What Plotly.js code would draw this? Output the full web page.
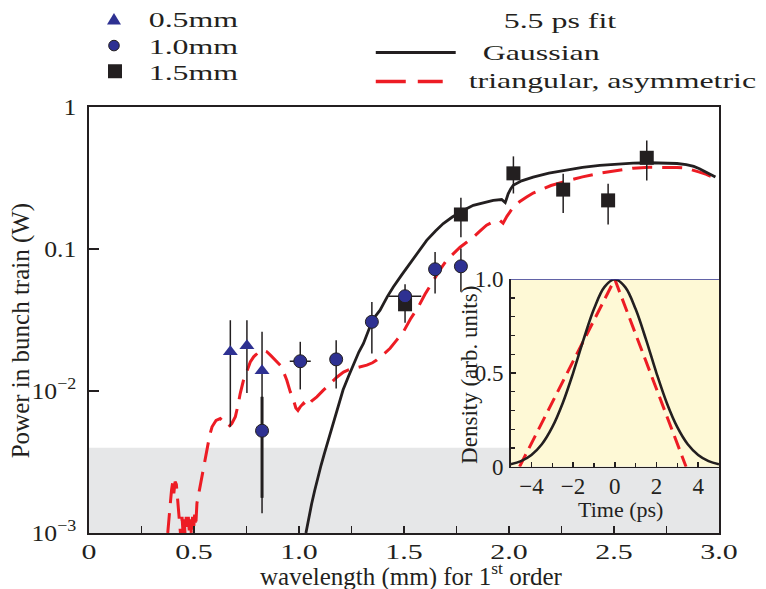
<!DOCTYPE html>
<html>
<head>
<meta charset="utf-8">
<script src="https://cdn.plot.ly/plotly-3.0.1.min.js"></script>
<style>
  html, body { margin: 0; padding: 0; background: #fff; }
  #chart { width: 766px; height: 589px; }
  g.xtick, g.ytick, g.annotation { transform-box: fill-box; }
  g.xtick { transform-origin: center; transform: scaleX(1.36); }
  g.ytick { transform-origin: right center; transform: scaleX(1.12); }
  g.annotation[data-index="0"], g.annotation[data-index="1"], g.annotation[data-index="2"],
  g.annotation[data-index="3"], g.annotation[data-index="4"], g.annotation[data-index="5"] {
    transform-origin: left center; transform: scaleX(1.45);
  }
</style>
</head>
<body>
<div id="chart"></div>
<script>
// ---------- measured data: 0.5 mm (triangles) ----------
const triX  = [0.673, 0.752, 0.824];
const triY  = [0.0189, 0.0208, 0.0139];
const triHi = [0.0315, 0.0315, 0.0261];
const triLo = [0.0056, 0.0097, 0.00138];

// ---------- measured data: 1.0 mm (circles) ----------
const cirX   = [0.824, 1.006, 1.177, 1.347, 1.505, 1.648, 1.771];
const cirY   = [0.00525, 0.0162, 0.0167, 0.0307, 0.0465, 0.072, 0.0755];
const cirHi  = [0.0091, 0.0222, 0.0228, 0.0424, 0.0465, 0.0953, 0.101];
const cirLo  = [0.00177, 0.01026, 0.01043, 0.0184, 0.0465, 0.0486, 0.0499];
const cirXErr = [0, 0.05, 0, 0, 0.077, 0, 0];

// ---------- measured data: 1.5 mm (squares) ----------
const sqX  = [1.505, 1.771, 2.021, 2.258, 2.472, 2.656];
const sqY  = [0.0408, 0.175, 0.341, 0.262, 0.22, 0.439];
const sqHi = [0.0565, 0.23, 0.449, 0.339, 0.288, 0.581];
const sqLo = [0.0302, 0.121, 0.246, 0.179, 0.149, 0.304];

// ---------- 5.5 ps fit: Gaussian ----------
const gaussX = [1.033, 1.045, 1.06, 1.075, 1.09, 1.105, 1.12, 1.135, 1.15, 1.165, 1.18, 1.195, 1.21, 1.235,
  1.26, 1.285, 1.307, 1.327, 1.347, 1.366, 1.386, 1.42, 1.449, 1.49, 1.529, 1.57, 1.608, 1.65, 1.687, 1.73,
  1.767, 1.80, 1.83, 1.88, 1.925, 1.965, 1.975, 1.982, 1.988, 1.996, 2.008, 2.02, 2.06, 2.115, 2.19, 2.274,
  2.35, 2.432, 2.51, 2.591, 2.67, 2.749, 2.8, 2.844, 2.88, 2.907, 2.935, 2.955, 2.983];
const gaussY = [0.001, 0.00125, 0.0016, 0.0020, 0.0025, 0.0030, 0.0036, 0.0043, 0.0052, 0.0062, 0.0074, 0.0087, 0.0102, 0.0126,
  0.0155, 0.0188, 0.0216, 0.0262, 0.0307, 0.034, 0.0371, 0.046, 0.054, 0.066, 0.0789, 0.096, 0.115, 0.134, 0.151, 0.168,
  0.182, 0.193, 0.203, 0.213, 0.22, 0.223, 0.218, 0.212, 0.225, 0.245, 0.265, 0.281, 0.302, 0.321, 0.342, 0.361,
  0.376, 0.388, 0.397, 0.403, 0.405, 0.403, 0.40, 0.393, 0.382, 0.368, 0.35, 0.339, 0.321];

// ---------- 5.5 ps fit: triangular, asymmetric ----------
const triaX = [0.375, 0.38, 0.387, 0.393, 0.398, 0.404, 0.41, 0.416, 0.422, 0.428, 0.433, 0.438, 0.443, 0.448,
  0.453, 0.458, 0.463, 0.468, 0.473, 0.478, 0.483, 0.488, 0.493, 0.498, 0.503, 0.508, 0.514, 0.525, 0.538,
  0.55, 0.562, 0.575, 0.586, 0.605, 0.625, 0.645, 0.665, 0.68, 0.697, 0.71, 0.72, 0.735, 0.752, 0.768, 0.784,
  0.805, 0.824, 0.835, 0.847, 0.865, 0.887, 0.905, 0.918, 0.93, 0.942, 0.958, 0.972, 0.985, 0.995, 1.005,
  1.021, 1.03, 1.038, 1.06, 1.085, 1.115, 1.148, 1.18, 1.212, 1.235, 1.259, 1.29, 1.323, 1.35, 1.37, 1.40,
  1.434, 1.465, 1.497, 1.53, 1.568, 1.60, 1.64, 1.67, 1.703, 1.735, 1.767, 1.80, 1.83, 1.86, 1.893, 1.92,
  1.957, 1.972, 1.99, 2.02, 2.05, 2.084, 2.115, 2.147, 2.2, 2.274, 2.35, 2.432, 2.51, 2.591, 2.67, 2.749,
  2.80, 2.844, 2.88, 2.907, 2.94, 2.968];
const triaY = [0.0010, 0.0013, 0.0016, 0.0020, 0.00225, 0.0019, 0.0023, 0.0022, 0.0017, 0.00145, 0.0011, 0.0009, 0.0013, 0.0010,
  0.00125, 0.00095, 0.0013, 0.00105, 0.0013, 0.0010, 0.00125, 0.00095, 0.0013, 0.00105, 0.00135, 0.0011, 0.00162, 0.0020, 0.0025,
  0.0032, 0.00406, 0.0049, 0.0056, 0.0062, 0.0064, 0.0060, 0.0056, 0.0059, 0.0066, 0.0080, 0.0096, 0.0118, 0.014, 0.016, 0.0174,
  0.0186, 0.0194, 0.0191, 0.0189, 0.0178, 0.0165, 0.0155, 0.0148, 0.0132, 0.0119, 0.0099, 0.0088, 0.0076, 0.0073, 0.0077,
  0.0082, 0.0079, 0.0077, 0.0085, 0.0091, 0.0101, 0.0113, 0.0125, 0.0136, 0.0141, 0.0144, 0.0148, 0.0152, 0.0158, 0.0165, 0.018,
  0.020, 0.0228, 0.0261, 0.032, 0.0391, 0.048, 0.0602, 0.071, 0.0833, 0.093, 0.103, 0.112, 0.121, 0.133, 0.147, 0.154,
  0.159, 0.152, 0.17, 0.197, 0.215, 0.232, 0.248, 0.259, 0.28, 0.301, 0.322, 0.342, 0.358, 0.371, 0.376, 0.377,
  0.375, 0.371, 0.36, 0.348, 0.335, 0.321];

// ---------- inset: bunch density ----------
const timeG = [-5, -4.5, -4, -3.5, -3, -2.5, -2, -1.5, -1, -0.5, 0, 0.5, 1, 1.5, 2, 2.5, 3, 3.5, 4, 4.5, 5];
const densG = [0.013, 0.030, 0.063, 0.120, 0.211, 0.339, 0.500, 0.678, 0.841, 0.958, 1, 0.958, 0.841, 0.678, 0.500, 0.339, 0.211, 0.120, 0.063, 0.030, 0.013];
const timeT = [-4.57, 0, 3.42];
const densT = [0, 1, 0];

// ---------- tick labels ----------
const xTickVals = [0, 0.5, 1.0, 1.5, 2.0, 2.5, 3.0];
const xTickText = ['0', '0.5', '1.0', '1.5', '2.0', '2.5', '3.0'];
const xMinorVals = [0.25, 0.75, 1.25, 1.75, 2.25, 2.75];
const yTickVals = [0.001, 0.01, 0.1, 1];
const yTickText = ['10<sup>−3</sup>', '10<sup>−2</sup>', '0.1', '1'];
const tTickVals = [-4, -2, 0, 2, 4];
const tMinorVals = [-3, -1, 1, 3];
const dTickVals = [0, 0.5, 1];
const dTickText = ['0', '0.5', '1.0'];
const dMinorVals = [0.1, 0.2, 0.3, 0.4, 0.6, 0.7, 0.8, 0.9];

const legendMarkers = ['0.5mm', '1.0mm', '1.5mm'];
const legendTitle = '5.5 ps fit';
const legendLines = ['Gaussian', 'triangular, asymmetric'];
const xTitle = 'wavelength (mm) for 1<sup>st</sup> order';
const yTitle = 'Power in bunch train (W)';
const tTitle = 'Time (ps)';
const dTitle = 'Density (arb. units)';

// ---------- colours ----------
const INK = '#231f20', BLUE = '#2e3192', RED = '#ed1c24';

function errs(y, hi, lo) {
  return {
    type: 'data', symmetric: false,
    array: y.map((v, i) => hi[i] - v),
    arrayminus: y.map((v, i) => v - lo[i]),
    color: INK, thickness: 1.5, width: 0
  };
}

const traces = [
  { x: triaX, y: triaY, xaxis: 'x', yaxis: 'y', mode: 'lines', type: 'scatter',
    line: { color: RED, width: 3, dash: '20px,10px' }, hoverinfo: 'skip' },
  { x: gaussX, y: gaussY, xaxis: 'x', yaxis: 'y', mode: 'lines', type: 'scatter',
    line: { color: INK, width: 2.8 }, hoverinfo: 'skip' },
  { x: sqX, y: sqY, mode: 'markers', type: 'scatter',
    marker: { symbol: 'square', size: 14, color: INK, line: { width: 0 } },
    error_y: errs(sqY, sqHi, sqLo) },
  { x: triX, y: triY, mode: 'markers', type: 'scatter',
    marker: { symbol: 'triangle-up', size: 13, color: BLUE, line: { width: 0 } },
    error_y: errs(triY, triHi, triLo) },
  // thicker error bar belonging to the first 1.0 mm point
  { x: cirX.slice(0, 1), y: cirY.slice(0, 1), mode: 'markers', type: 'scatter',
    marker: { size: 1, color: 'rgba(0,0,0,0)' },
    error_y: Object.assign(errs(cirY.slice(0, 1), cirHi.slice(0, 1), cirLo.slice(0, 1)), { thickness: 3 }) },
  { x: cirX, y: cirY, mode: 'markers', type: 'scatter',
    marker: { symbol: 'circle', size: 13, color: BLUE, line: { width: 1, color: INK } },
    error_y: errs(cirY, cirHi, cirLo),
    error_x: { type: 'data', array: cirXErr, color: INK, thickness: 1.5, width: 0 } },
  // inset
  { x: timeT, y: densT, xaxis: 'x2', yaxis: 'y2', mode: 'lines', type: 'scatter',
    line: { color: RED, width: 3, dash: '14px,7px' } },
  { x: timeG, y: densG, xaxis: 'x2', yaxis: 'y2', mode: 'lines', type: 'scatter',
    line: { color: INK, width: 2.6, shape: 'spline' } }
];

// pixel -> paper helpers (plot area 89..719.5 x 106.5..533)
const PL = 89, PW = 630.5, PB = 533, PH = 426.5;
const px = v => (v - PL) / PW;
const py = v => (PB - v) / PH;

const shapes = [
  { type: 'rect', xref: 'paper', yref: 'y domain', x0: 0, x1: 1, y0: 0, y1: 0.2,
    fillcolor: '#e6e7e8', line: { width: 0 }, layer: 'below' },
  { type: 'rect', xref: 'x2', yref: 'y2', x0: -5, x1: 5, y0: 0, y1: 1,
    fillcolor: '#fef9d6', line: { width: 0 }, layer: 'below' },
  { type: 'line', xref: 'x2', yref: 'y2', x0: -5, x1: 5, y0: 1, y1: 1,
    line: { color: BLUE, width: 1.5 } },
  // key symbols
  { type: 'path', xref: 'paper', yref: 'paper', xsizemode: 'pixel', ysizemode: 'pixel',
    xanchor: px(114), yanchor: py(18.3), path: 'M-7,-5.5 L7,-5.5 L0,6 Z',
    fillcolor: BLUE, line: { width: 0 } },
  { type: 'circle', xref: 'paper', yref: 'paper', xsizemode: 'pixel', ysizemode: 'pixel',
    xanchor: px(114), yanchor: py(45), x0: -5.3, x1: 5.3, y0: -5.3, y1: 5.3,
    fillcolor: BLUE, line: { width: 1, color: INK } },
  { type: 'rect', xref: 'paper', yref: 'paper', xsizemode: 'pixel', ysizemode: 'pixel',
    xanchor: px(115), yanchor: py(70.7), x0: -7, x1: 7, y0: -7, y1: 7,
    fillcolor: INK, line: { width: 0 } },
  { type: 'line', xref: 'paper', yref: 'paper', x0: px(376), x1: px(456), y0: py(52), y1: py(52),
    line: { color: INK, width: 3 } },
  { type: 'line', xref: 'paper', yref: 'paper', x0: px(376), x1: px(443), y0: py(81), y1: py(81),
    line: { color: RED, width: 3.5, dash: '30px,12px' } }
];

const keyFont = { size: 22, color: INK };
const annotations = [
  { text: legendMarkers[0], x: px(146), y: py(19) },
  { text: legendMarkers[1], x: px(146), y: py(46) },
  { text: legendMarkers[2], x: px(146), y: py(72) },
  { text: legendTitle, x: px(501), y: py(20) },
  { text: legendLines[0], x: px(480), y: py(52) },
  { text: legendLines[1], x: px(466), y: py(80) }
].map(a => Object.assign(a, { xanchor: 'left', font: keyFont }));
annotations.push(
  { text: xTitle, x: px(412), y: py(575), xanchor: 'center', font: { size: 25, color: INK } },
  { text: yTitle, x: px(21), y: py(331), xanchor: 'center', textangle: -90, font: { size: 25, color: INK } },
  { text: tTitle, x: px(621), y: py(509), xanchor: 'center', font: { size: 22, color: INK } },
  { text: dTitle, x: px(469), y: py(375), xanchor: 'center', textangle: -90, font: { size: 23, color: INK } }
);
annotations.forEach(a => Object.assign(a, { xref: 'paper', yref: 'paper', yanchor: 'middle', showarrow: false }));

const axisCommon = {
  showgrid: false, zeroline: false, showline: true, linecolor: INK, linewidth: 2,
  ticks: 'inside', tickcolor: INK, tickwidth: 1.5, automargin: false, fixedrange: true
};

const layout = {
  width: 766, height: 589,
  margin: { l: PL, r: 766 - (PL + PW), t: PB - PH, b: 589 - PB, pad: 0 },
  paper_bgcolor: '#ffffff', plot_bgcolor: 'rgba(0,0,0,0)',
  font: { family: '"Liberation Serif", "Times New Roman", serif', color: INK, size: 22 },
  showlegend: false,
  xaxis: Object.assign({}, axisCommon, {
    domain: [0, 1], range: [0, 3], mirror: true,
    tickmode: 'array', tickvals: xTickVals, ticktext: xTickText, ticklen: 7,
    minor: { tickvals: xMinorVals, ticks: 'inside', ticklen: 7, tickwidth: 1.5, tickcolor: INK },
    tickfont: { size: 22 }, ticklabelstandoff: -2
  }),
  yaxis: Object.assign({}, axisCommon, {
    type: 'log', domain: [0, 1], range: [-3, 0], mirror: true,
    tickmode: 'array', tickvals: yTickVals, ticktext: yTickText, ticklen: 10,
    tickfont: { size: 23 }, ticklabelstandoff: 6
  }),
  xaxis2: Object.assign({}, axisCommon, {
    domain: [(510.9 - PL) / PW, 1], anchor: 'y2', range: [-5, 5],
    tickmode: 'array', tickvals: tTickVals, ticklen: 5,
    minor: { tickvals: tMinorVals, ticks: 'inside', ticklen: 4, tickwidth: 1.2, tickcolor: INK },
    tickfont: { size: 23 }, ticklabelstandoff: -2, linewidth: 1.5
  }),
  yaxis2: Object.assign({}, axisCommon, {
    domain: [(PB - 466.7) / PH, (PB - 279) / PH], anchor: 'x2', range: [0, 1],
    tickmode: 'array', tickvals: dTickVals, ticktext: dTickText, ticklen: 5,
    minor: { tickvals: dMinorVals, ticks: 'inside', ticklen: 4, tickwidth: 1.2, tickcolor: INK },
    tickfont: { size: 23 }, ticklabelstandoff: 1, linewidth: 1.5
  }),
  shapes: shapes,
  annotations: annotations
};

Plotly.newPlot('chart', traces, layout, { staticPlot: true, displayModeBar: false });
</script>
</body>
</html>
